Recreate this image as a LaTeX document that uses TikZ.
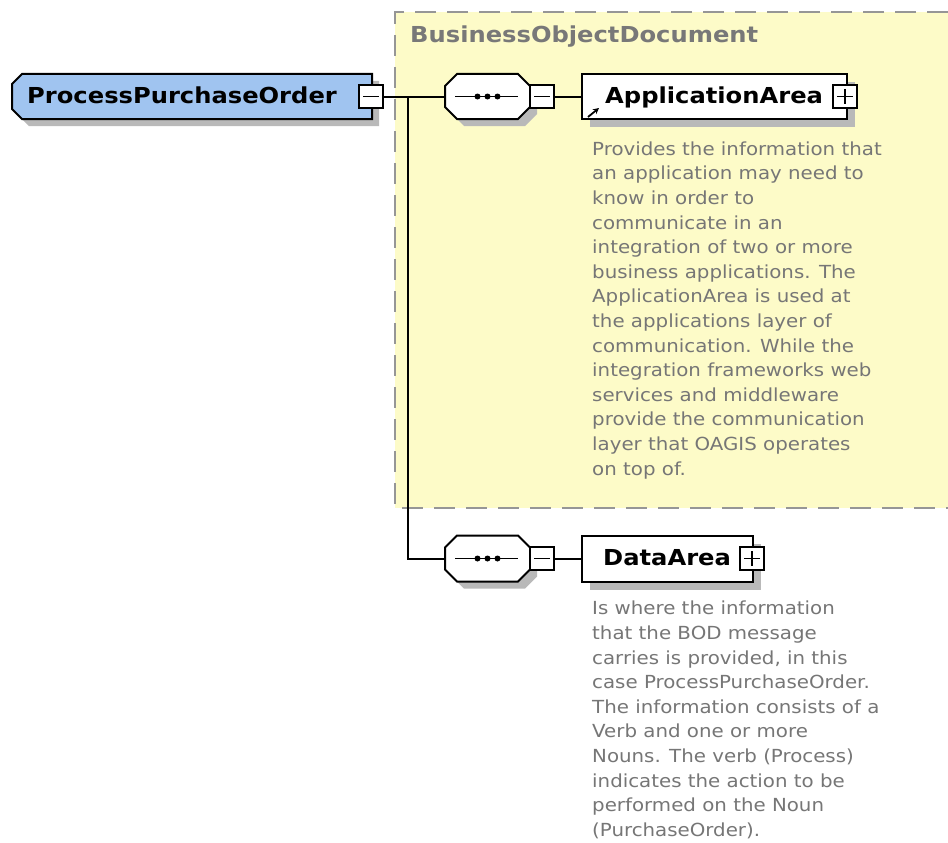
\documentclass[tikz,border=0pt]{standalone}
\usepackage{fontspec}
\newfontfamily\lblfont[FakeStretch=1.1]{DejaVu Sans}
\newfontfamily\descfont[FakeStretch=1.1]{DejaVu Sans}
\usetikzlibrary{calc,arrows.meta}
\definecolor{bodyellow}{RGB}{253,251,200}
\definecolor{bodborder}{RGB}{150,150,150}
\definecolor{ppoblue}{RGB}{160,196,240}
\definecolor{shadowgray}{RGB}{185,185,185}
\definecolor{descgray}{RGB}{118,118,118}
\definecolor{bodtext}{RGB}{120,120,120}
\tikzset{
  conn/.style={line width=2pt, black},
  boxline/.style={line width=2pt, draw=black},
  holder/.style={draw=none, inner sep=0pt, outer sep=0pt},
  lbl/.style={inner sep=0pt, anchor=base west, font=\lblfont\bfseries\fontsize{22}{26}\selectfont},
  desc/.style={inner sep=0pt, anchor=north west, align=left, text=descgray,
               font=\descfont\fontsize{18}{24.6}\selectfont},
  togglebox/.style={holder, minimum width=24pt, minimum height=23pt},
}
\newcommand{\drawminus}[1]{%
  \fill[white] (#1.south west) rectangle (#1.north east);
  \draw[line width=1.8pt] (#1.south west) rectangle (#1.north east);
  \draw[line width=1.6pt] ($(#1.west)+(4,0)$) -- ($(#1.east)+(-4,0)$);}
\newcommand{\drawplus}[1]{%
  \drawminus{#1}
  \draw[line width=1.6pt] ($(#1.north)+(0,4)$) -- ($(#1.south)+(0,-4)$);}
\newcommand{\octpath}[2]{% node, chamfer
  ($(#1.north west)+(#2,0)$) -- ($(#1.north east)+(-#2,0)$) -- ($(#1.north east)+(0,#2)$) --
  ($(#1.south east)+(0,-#2)$) -- ($(#1.south east)+(-#2,0)$) -- ($(#1.south west)+(#2,0)$) --
  ($(#1.south west)+(0,-#2)$) -- ($(#1.north west)+(0,#2)$) -- cycle}
\begin{document}
\begin{tikzpicture}[x=1pt,y=-1pt]
\useasboundingbox (0,0) rectangle (948,843);
\fill[white] (0,0) rectangle (948,843);

% BusinessObjectDocument area
\fill[bodyellow] (395,12) rectangle (948,508);
\draw[bodborder, line width=2pt, dash pattern=on 21pt off 11pt] (948,12) -- (395,12) -- (395,508) -- (948,508);
\node[lbl, text=bodtext] (bodlabel) at (410,43) {BusinessObjectDocument};

% ProcessPurchaseOrder root element
\node[holder, minimum width=360pt, minimum height=45pt] (ppo) at (192,96.5) {};
\fill[shadowgray] ($(ppo.north west)+(10+7,7)$) -- ($(ppo.north east)+(7,7)$) -- ($(ppo.south east)+(7,7)$)
  -- ($(ppo.south west)+(10+7,7)$) -- ($(ppo.south west)+(7,-10+7)$) -- ($(ppo.north west)+(7,10+7)$) -- cycle;
\filldraw[fill=ppoblue, boxline] ($(ppo.north west)+(10,0)$) -- (ppo.north east) -- (ppo.south east)
  -- ($(ppo.south west)+(10,0)$) -- ($(ppo.south west)+(0,-10)$) -- ($(ppo.north west)+(0,10)$) -- cycle;
\node[lbl] (ppolabel) at (27,103) {ProcessPurchaseOrder};
\node[togglebox] (ppominus) at (371,96.5) {};
\drawminus{ppominus}

% sequence compositor 1
\node[holder, minimum width=85pt, minimum height=45pt] (seq1) at (487.5,96.5) {};
\fill[shadowgray] ($(seq1.north west)+(12+7,7)$) -- ($(seq1.north east)+(-12+7,7)$) -- ($(seq1.north east)+(7,12+7)$) --
  ($(seq1.south east)+(7,-12+7)$) -- ($(seq1.south east)+(-12+7,7)$) -- ($(seq1.south west)+(12+7,7)$) --
  ($(seq1.south west)+(7,-12+7)$) -- ($(seq1.north west)+(7,12+7)$) -- cycle;
\filldraw[fill=white, boxline] \octpath{seq1}{12};
\draw[line width=1.8pt] ($(seq1.west)+(10,0)$) -- ($(seq1.east)+(-12,0)$);
\foreach \dx in {-10,0,10} \fill ($(seq1.center)+(\dx,0)$) circle (3pt);
\node[togglebox] (seq1minus) at (542,96.5) {};
\drawminus{seq1minus}

% ApplicationArea element
\node[holder, minimum width=265pt, minimum height=45pt] (apparea) at (714.5,96.5) {};
\fill[shadowgray] ($(apparea.north west)+(8,8)$) rectangle ($(apparea.south east)+(8,8)$);
\filldraw[fill=white, boxline] (apparea.north west) rectangle (apparea.south east);
\node[lbl] (applabel) at (605,103) {ApplicationArea};
\node[togglebox] (appplus) at (845,96.5) {};
\drawplus{appplus}
\coordinate (reftail) at (588,117);
\coordinate (refhead) at (599,108);
\draw[line width=1.8pt, -{Stealth[length=6pt,width=6pt]}] (reftail) -- (refhead);

\node[desc] (appdesc) at (592,141.5) {Provides the information that\\an application may need to\\know in order to\\communicate in an\\integration of two or more\\business applications. The\\ApplicationArea is used at\\the applications layer of\\communication. While the\\integration frameworks web\\services and middleware\\provide the communication\\layer that OAGIS operates\\on top of.};

% sequence compositor 2
\node[holder, minimum width=85pt, minimum height=46pt] (seq2) at (487.5,558.5) {};
\fill[shadowgray] ($(seq2.north west)+(12+7,7)$) -- ($(seq2.north east)+(-12+7,7)$) -- ($(seq2.north east)+(7,12+7)$) --
  ($(seq2.south east)+(7,-12+7)$) -- ($(seq2.south east)+(-12+7,7)$) -- ($(seq2.south west)+(12+7,7)$) --
  ($(seq2.south west)+(7,-12+7)$) -- ($(seq2.north west)+(7,12+7)$) -- cycle;
\filldraw[fill=white, boxline] \octpath{seq2}{12};
\draw[line width=1.8pt] ($(seq2.west)+(10,0)$) -- ($(seq2.east)+(-12,0)$);
\foreach \dx in {-10,0,10} \fill ($(seq2.center)+(\dx,0)$) circle (3pt);
\node[togglebox] (seq2minus) at (542,558.5) {};
\drawminus{seq2minus}

% DataArea element
\node[holder, minimum width=171pt, minimum height=46pt] (dataarea) at (667.5,558.5) {};
\fill[shadowgray] ($(dataarea.north west)+(8,8)$) rectangle ($(dataarea.south east)+(8,8)$);
\filldraw[fill=white, boxline] (dataarea.north west) rectangle (dataarea.south east);
\node[lbl] (datalabel) at (603,565) {DataArea};
\node[togglebox] (dataplus) at (752,558.5) {};
\drawplus{dataplus}

\node[desc] (datadesc) at (592,601) {Is where the information\\that the BOD message\\carries is provided, in this\\case ProcessPurchaseOrder.\\The information consists of a\\Verb and one or more\\Nouns. The verb (Process)\\indicates the action to be\\performed on the Noun\\(PurchaseOrder).};

% connectors
\coordinate (fork) at (408,96.5);
\draw[conn] (ppominus.east) -- (seq1.west);
\draw[conn] (fork) |- (seq2.west);
\draw[conn] (seq1minus.east) -- (apparea.west);
\draw[conn] (seq2minus.east) -- (dataarea.west);
\end{tikzpicture}
\end{document}
